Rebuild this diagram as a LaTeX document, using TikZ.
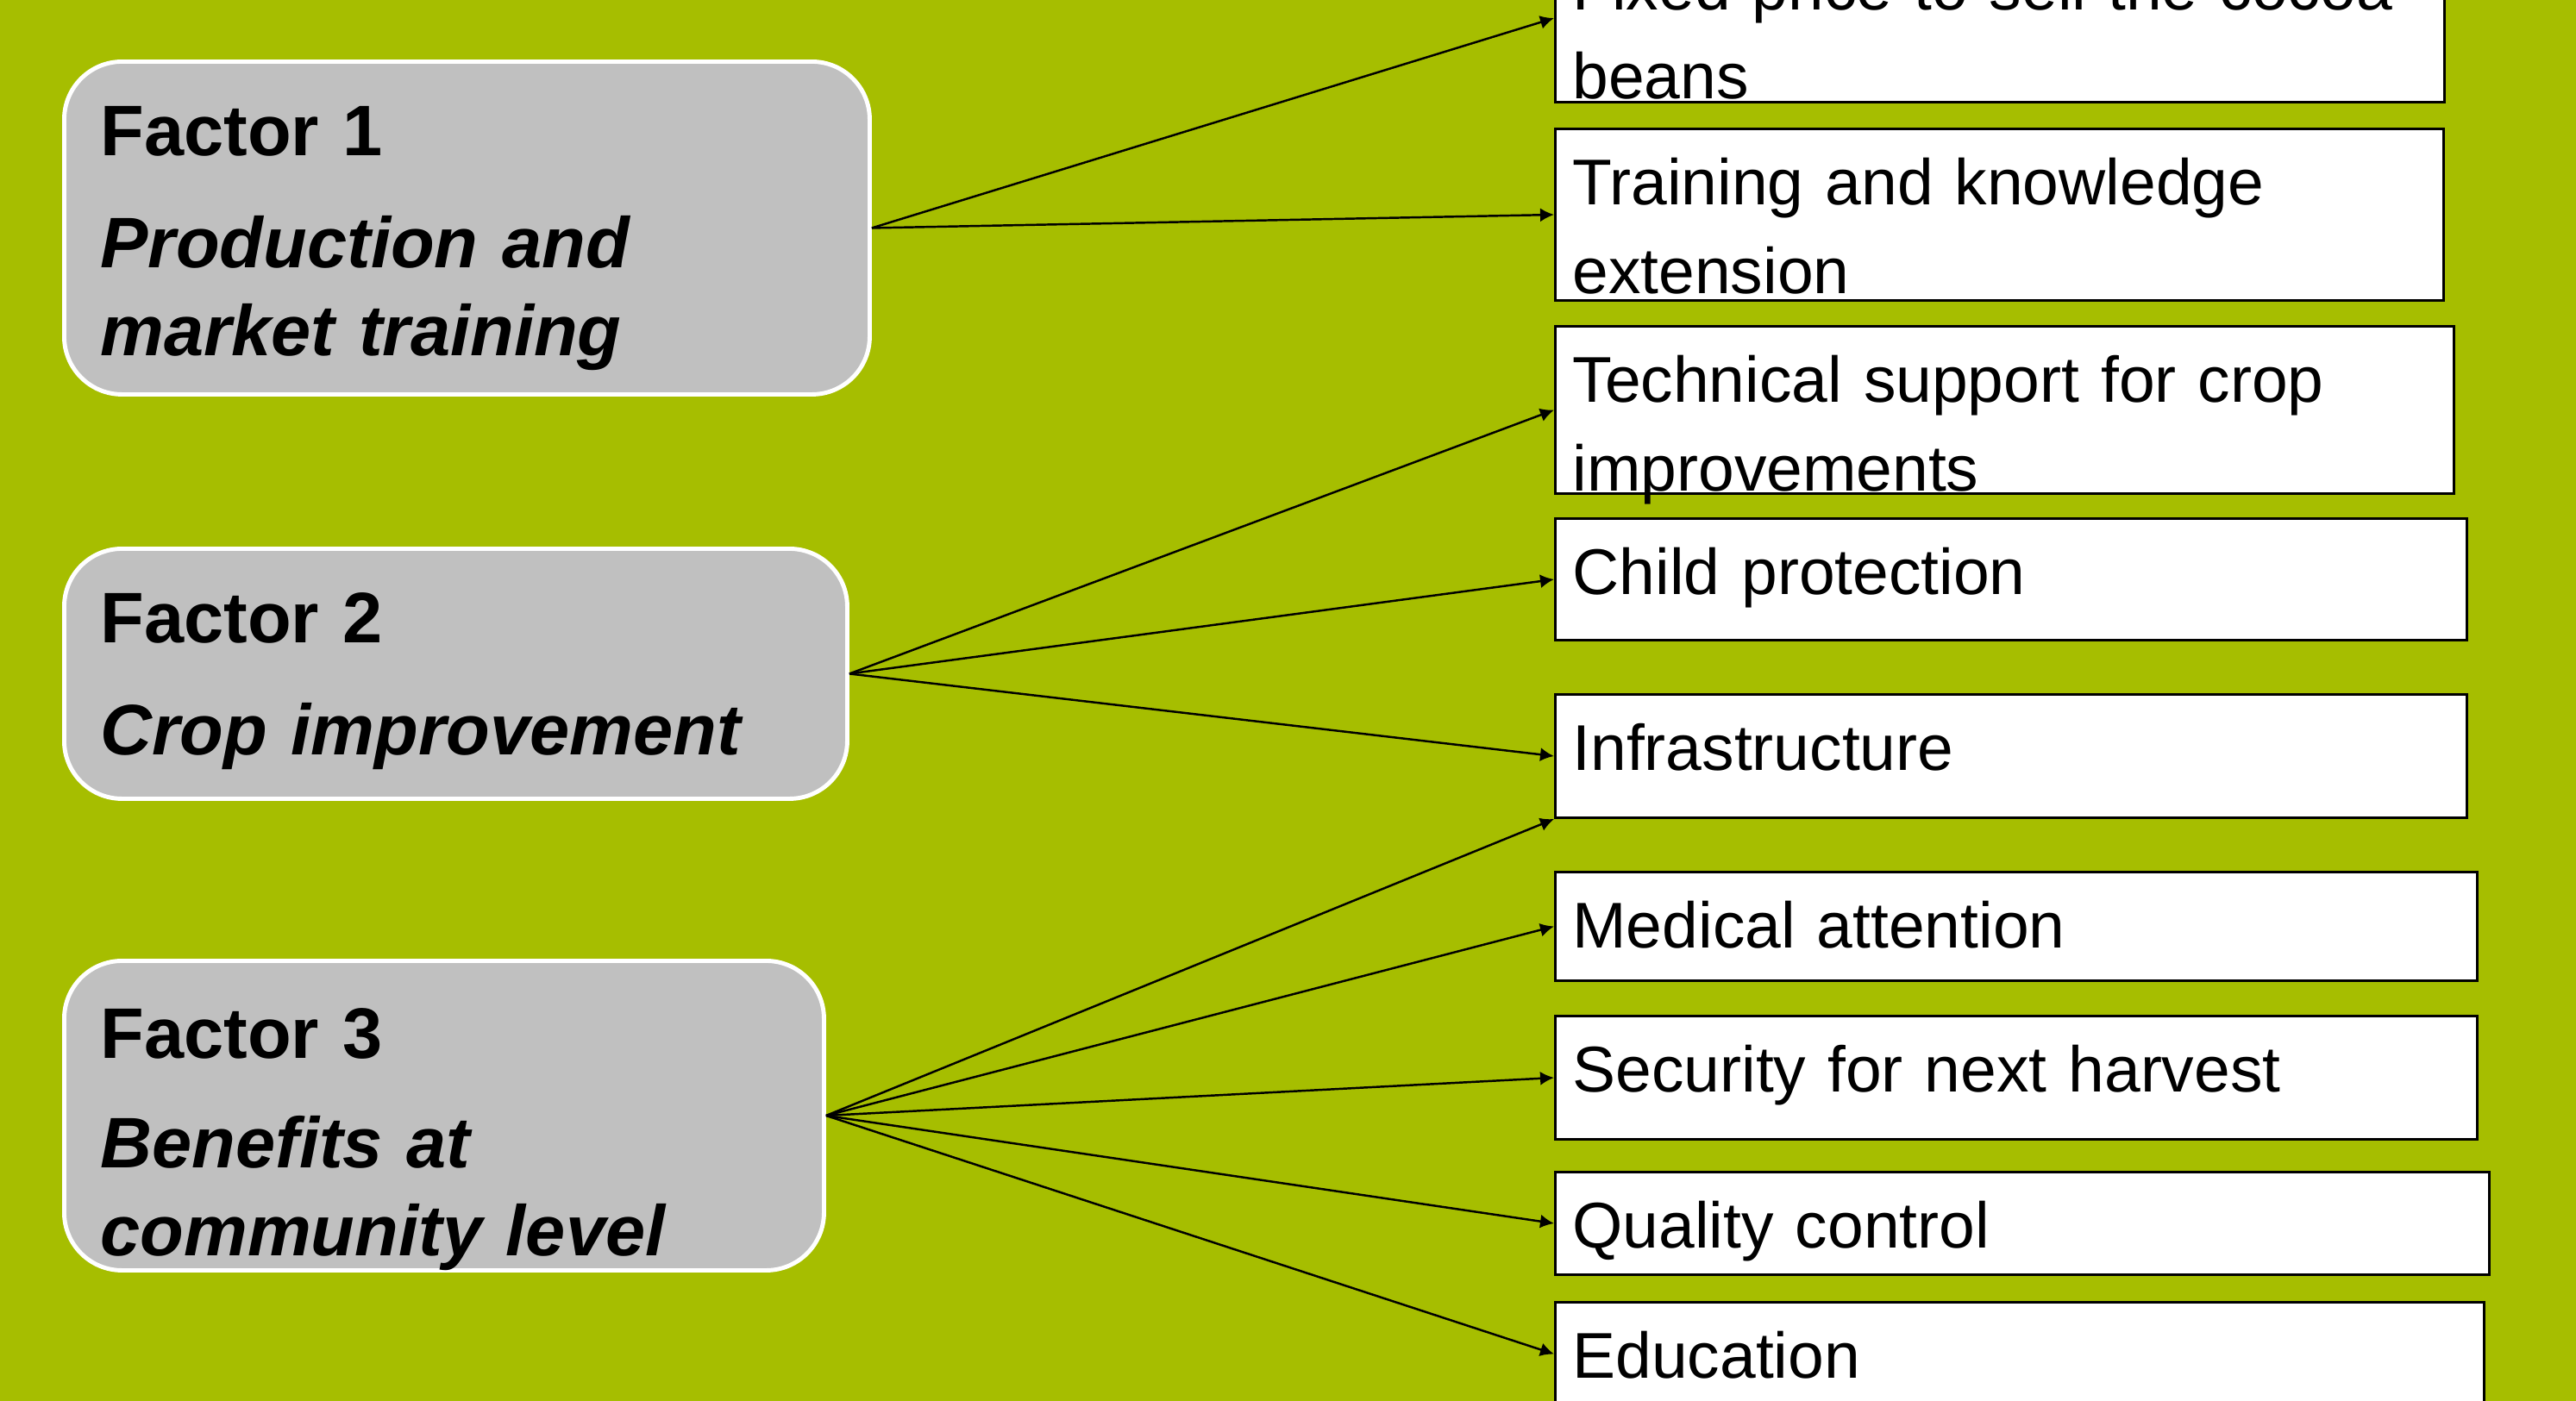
\documentclass[tikz,border=0pt]{standalone}
\usepackage{fontspec}
\setmainfont{Liberation Sans}
\usetikzlibrary{arrows.meta}
\definecolor{leaf}{RGB}{166,190,0}
\definecolor{boxgray}{RGB}{192,192,192}

\begin{document}
\begin{tikzpicture}[>={Latex[length=1.6mm,width=1.6mm]}, line width=0.7pt,
  factor/.style={draw=white, line width=1.4pt, fill=boxgray, rounded corners=0.67cm, anchor=north west,
    inner xsep=0.42cm, inner ysep=0pt, text height=1.09cm, align=left,
    font=\fontsize{0.83cm}{1.02cm}\selectfont\bfseries},
  item/.style={draw=black, line width=0.85pt, fill=white, anchor=north west,
    inner xsep=0.2cm, inner ysep=0pt, text height=0.88cm, align=left,
    font=\fontsize{0.75cm}{1.03cm}\selectfont}]
\useasboundingbox (0,0) rectangle (29.87,-16.25);
\clip (0,0) rectangle (29.87,-16.25);
\fill[leaf] (0,0) rectangle (29.87,-16.25);

% the three factors
\node[factor, text width=8.50cm, text depth=2.77cm] (f1) at (0.72,-0.69) {Factor 1\\[0.28cm]\itshape Production and\\market training};
\node[factor, text width=8.24cm, text depth=1.81cm] (f2) at (0.72,-6.34) {Factor 2\\[0.28cm]\itshape Crop improvement};
\node[factor, text width=7.97cm, text depth=2.46cm, text height=1.13cm] (f3) at (0.72,-11.12) {Factor 3\\[0.25cm]\itshape Benefits at\\community level};

% what each factor brings
\node[item, text width=9.91cm, text depth=1.07cm] (fix) at (18.02,0.78) {Fixed price to sell the cocoa\\beans};
\node[item, text width=9.90cm, text depth=1.11cm] (tra) at (18.02,-1.48) {Training and knowledge\\extension};
\node[item, text width=10.02cm, text depth=1.06cm] (tec) at (18.02,-3.77) {Technical support for crop\\improvements};
\node[item, text width=10.17cm, text depth=0.53cm] (chi) at (18.02,-6.00) {Child protection};
\node[item, text width=10.17cm, text depth=0.55cm] (inf) at (18.02,-8.04) {Infrastructure};
\node[item, text width=10.29cm, text depth=0.38cm] (med) at (18.02,-10.10) {Medical attention};
\node[item, text width=10.29cm, text depth=0.55cm] (sec) at (18.02,-11.77) {Security for next harvest};
\node[item, text width=10.43cm, text depth=0.31cm] (qua) at (18.02,-13.58) {Quality control};
\node[item, text width=10.37cm, text depth=0.32cm] (edu) at (18.02,-15.09) {Education};

\draw[->] (f1.east) -- (fix.west);
\draw[->] (f1.east) -- (tra.west);
\draw[->] (f2.east) -- (tec.west);
\draw[->] (f2.east) -- (chi.west);
\draw[->] (f2.east) -- (inf.west);
\draw[->] (f3.east) -- (inf.south west);
\draw[->] (f3.east) -- (med.west);
\draw[->] (f3.east) -- (sec.west);
\draw[->] (f3.east) -- (qua.west);
\draw[->] (f3.east) -- (edu.west);
\end{tikzpicture}
\end{document}
